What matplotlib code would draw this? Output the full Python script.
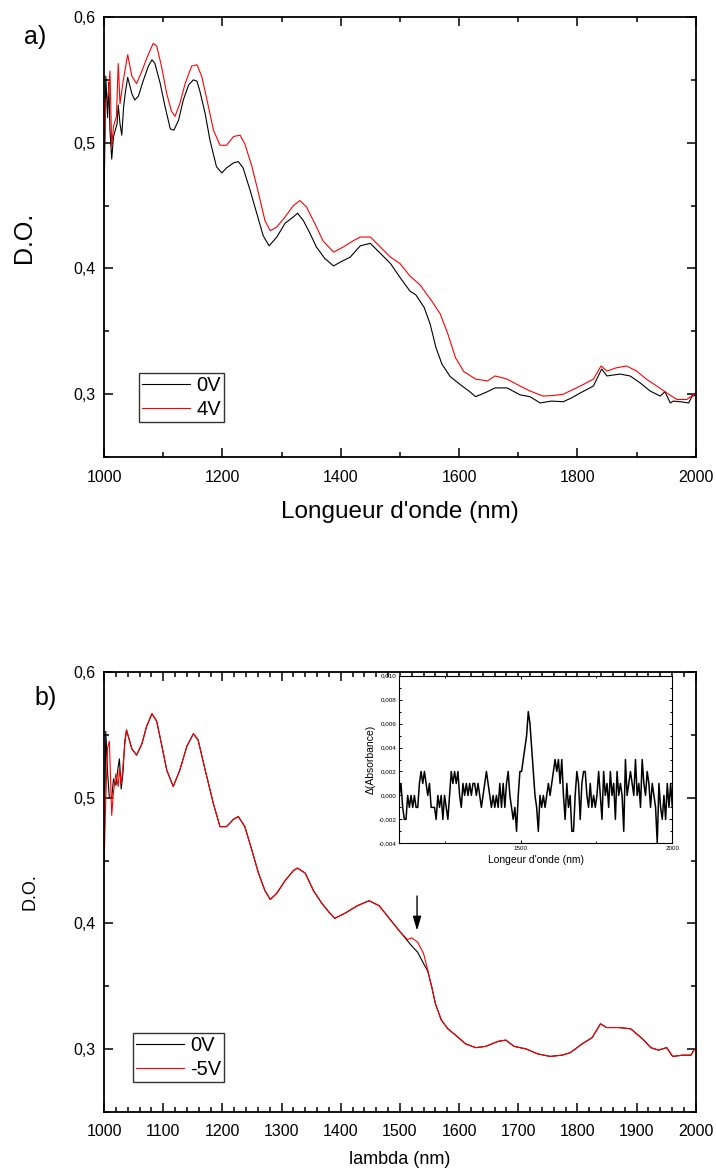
import numpy as np
import matplotlib
matplotlib.use("Agg")
import matplotlib.pyplot as plt
from matplotlib.ticker import MultipleLocator, FuncFormatter

plt.rcParams['font.family'] = ['Liberation Sans', 'DejaVu Sans']

# ---- panel a : 0V / 4V ----
wl_a0 = [1000, 1003, 1006, 1008, 1010, 1013, 1016, 1019, 1022, 1024, 1027, 1030, 1033, 1036,
         1040, 1047, 1052, 1058, 1066, 1075, 1081, 1086, 1095, 1103, 1112, 1118, 1126, 1134,
         1143, 1151, 1157, 1162, 1171, 1179, 1190, 1199, 1207, 1219, 1227, 1235, 1247, 1258,
         1269, 1279, 1292, 1306, 1320, 1327, 1337, 1348, 1359, 1373, 1388, 1399, 1416, 1433,
         1450, 1467, 1484, 1500, 1517, 1527, 1541, 1551, 1561, 1571, 1585, 1601, 1618, 1628,
         1648, 1661, 1681, 1703, 1720, 1737, 1756, 1776, 1790, 1805, 1827, 1841, 1850, 1872,
         1889, 1906, 1923, 1940, 1948, 1957, 1962, 1974, 1988, 1994, 2000]
do_a0 = [0.454, 0.553, 0.520, 0.548, 0.510, 0.487, 0.505, 0.510, 0.515, 0.530, 0.515, 0.506,
         0.528, 0.540, 0.552, 0.539, 0.534, 0.537, 0.549, 0.561, 0.566, 0.563, 0.547, 0.529,
         0.511, 0.510, 0.518, 0.534, 0.546, 0.550, 0.549, 0.541, 0.523, 0.502, 0.481, 0.476,
         0.480, 0.484, 0.485, 0.480, 0.462, 0.444, 0.426, 0.418, 0.425, 0.436, 0.441, 0.444,
         0.438, 0.428, 0.417, 0.408, 0.402, 0.405, 0.409, 0.418, 0.420, 0.412, 0.404, 0.393,
         0.382, 0.379, 0.369, 0.356, 0.337, 0.324, 0.314, 0.308, 0.302, 0.298, 0.302, 0.305,
         0.305, 0.2995, 0.298, 0.293, 0.2945, 0.294, 0.297, 0.301, 0.3065, 0.320, 0.3145,
         0.316, 0.3145, 0.309, 0.3025, 0.2985, 0.302, 0.293, 0.2945, 0.294, 0.293, 0.2985, 0.299]

wl_a4 = [1000, 1003, 1007, 1010, 1013, 1016, 1021, 1024, 1027, 1033, 1040, 1047, 1055, 1064,
         1072, 1083, 1089, 1097, 1106, 1114, 1120, 1128, 1137, 1148, 1157, 1165, 1174, 1185,
         1196, 1207, 1219, 1230, 1238, 1250, 1261, 1272, 1281, 1292, 1306, 1320, 1331, 1342,
         1356, 1370, 1388, 1404, 1421, 1433, 1450, 1467, 1484, 1500, 1517, 1534, 1554, 1568,
         1581, 1594, 1608, 1628, 1648, 1661, 1681, 1703, 1720, 1742, 1760, 1776, 1805, 1827,
         1840, 1850, 1866, 1883, 1900, 1917, 1934, 1951, 1968, 1985, 2000]
do_a4 = [0.486, 0.534, 0.537, 0.557, 0.497, 0.513, 0.521, 0.563, 0.531, 0.551, 0.570, 0.553,
         0.547, 0.557, 0.567, 0.579, 0.577, 0.561, 0.539, 0.525, 0.521, 0.531, 0.547, 0.561,
         0.562, 0.553, 0.534, 0.510, 0.498, 0.498, 0.505, 0.506, 0.499, 0.481, 0.460, 0.438,
         0.430, 0.433, 0.441, 0.450, 0.454, 0.449, 0.436, 0.422, 0.413, 0.417, 0.422, 0.425,
         0.425, 0.417, 0.409, 0.404, 0.394, 0.387, 0.374, 0.364, 0.348, 0.329, 0.318, 0.312,
         0.3105, 0.3145, 0.312, 0.3065, 0.3025, 0.2985, 0.299, 0.300, 0.3065, 0.312, 0.3224,
         0.3184, 0.321, 0.3224, 0.3184, 0.3118, 0.3065, 0.301, 0.2958, 0.2958, 0.301]

# ---- panel b : 0V / -5V ----
wl_b = [1000, 1003, 1006, 1009, 1013, 1016, 1020, 1024, 1026, 1029, 1032, 1035, 1038, 1047,
        1055, 1064, 1072, 1081, 1089, 1097, 1106, 1117, 1128, 1140, 1151, 1159, 1171, 1185,
        1196, 1207, 1219, 1227, 1238, 1250, 1261, 1272, 1281, 1292, 1306, 1320, 1327, 1340,
        1354, 1368, 1380, 1390, 1407, 1428, 1448, 1465, 1482, 1499, 1513, 1520, 1530, 1540,
        1547, 1554, 1560, 1570, 1581, 1594, 1611, 1628, 1645, 1666, 1679, 1693, 1713, 1733,
        1754, 1774, 1788, 1808, 1825, 1839, 1849, 1870, 1890, 1910, 1924, 1937, 1951, 1961,
        1978, 1992, 1998, 2000]
do_b0 = [0.450, 0.553, 0.520, 0.500, 0.500, 0.515, 0.510, 0.525, 0.531, 0.507, 0.520, 0.545,
         0.554, 0.539, 0.534, 0.543, 0.557, 0.567, 0.561, 0.543, 0.522, 0.509, 0.522, 0.541,
         0.551, 0.546, 0.522, 0.495, 0.477, 0.477, 0.483, 0.485, 0.477, 0.458, 0.440, 0.426,
         0.419, 0.424, 0.434, 0.442, 0.444, 0.440, 0.426, 0.416, 0.409, 0.404, 0.408, 0.414,
         0.418, 0.414, 0.404, 0.394, 0.386, 0.382, 0.377, 0.368, 0.362, 0.349, 0.336, 0.323,
         0.316, 0.311, 0.304, 0.301, 0.302, 0.306, 0.307, 0.302, 0.300, 0.296, 0.294, 0.295,
         0.297, 0.304, 0.309, 0.320, 0.317, 0.317, 0.316, 0.308, 0.301, 0.299, 0.301, 0.294,
         0.295, 0.295, 0.300, 0.299]
do_b5 = [0.445, 0.500, 0.540, 0.545, 0.486, 0.505, 0.519, 0.509, 0.523, 0.511, 0.525, 0.542,
         0.554, 0.539, 0.534, 0.543, 0.557, 0.567, 0.561, 0.543, 0.522, 0.509, 0.522, 0.541,
         0.551, 0.546, 0.522, 0.495, 0.477, 0.477, 0.483, 0.485, 0.477, 0.458, 0.440, 0.426,
         0.419, 0.424, 0.434, 0.442, 0.444, 0.440, 0.426, 0.416, 0.409, 0.404, 0.408, 0.414,
         0.418, 0.414, 0.404, 0.394, 0.387, 0.3885, 0.385, 0.376, 0.363, 0.349, 0.336, 0.323,
         0.316, 0.311, 0.304, 0.301, 0.302, 0.306, 0.307, 0.302, 0.300, 0.296, 0.294, 0.295,
         0.297, 0.304, 0.309, 0.320, 0.317, 0.317, 0.316, 0.308, 0.301, 0.299, 0.301, 0.294,
         0.295, 0.295, 0.300, 0.299]

# ---- inset : difference spectrum (units of 0.001) ----
delta = [0, 1, -1, -2, -2, 0, -1, 0, -1, 0, -1, -1, 1, 2, 1, 2, 1, 0, 1, -1, -1, -1, -2, 0, -1, 0, -2,
         0, -1, -2, 0, 2, 1, 2, 1, 2, 0, -1, 1, 0, 1, 0, 1, 0, 1, 1, 0, 1, 0, -1, 0, 1, 2, 1,
         0, -1, 0, -1, 0, -1, 1, -1, 1, -1, 1, 2, 0, -1, -2, -1, -3, 0, 2, 2, 3, 4, 5,
         7, 6, 4, 2, 0, -1, -3, 0, -1, 0, -1, 0, 1, 0, 1, 2, 3, 2, 3, 1, 3, 0, -2, 1, -1,
         0, -3, -3, 0, 2, 1, -2, 1, 2, 2, 0, -1, 1, -1, 0, -1, 0, 2, 0, -2, 2, 0, 1, -1, 2,
         0, 1, -2, 2, 0, 1, 0, -3, 3, 0, 1, 2, 1, 0, 3, 0, 1, -1, 3, 1, 0, 2, 1, -1, 1,
         0, -1, -4, 1, -1, -2, 0, -2, 1, -1, 1, -1]
wl_inset = np.linspace(1100, 2000, len(delta))

comma = FuncFormatter(lambda v, p: f"{v:.1f}".replace('.', ','))
comma3 = FuncFormatter(lambda v, p: f"{v:.3f}".replace('.', ','))


def style_axes(ax, xmajor, xminor):
    ax.set_xlim(1000, 2000)
    ax.set_ylim(0.25, 0.6)
    ax.xaxis.set_major_locator(MultipleLocator(xmajor))
    ax.xaxis.set_minor_locator(MultipleLocator(xminor))
    ax.yaxis.set_major_locator(MultipleLocator(0.1))
    ax.yaxis.set_minor_locator(MultipleLocator(0.05))
    ax.yaxis.set_major_formatter(comma)
    ax.tick_params(which='both', direction='in', top=True, right=True, width=1.1)
    ax.tick_params(which='major', length=6.5, labelsize=11.5)
    ax.tick_params(which='minor', length=3.6)
    ax.tick_params(axis='x', pad=9)
    ax.tick_params(axis='y', pad=6)
    for s in ax.spines.values():
        s.set_linewidth(1.3)


fig = plt.figure(figsize=(7.16, 11.74), dpi=100)

# panel a
ax_a = fig.add_axes([0.1453, 0.6107, 0.8264, 0.3748])
ax_a.plot(wl_a0, do_a0, color='black', lw=0.8, label='0V')
ax_a.plot(wl_a4, do_a4, color='red', lw=0.8, label='4V')
style_axes(ax_a, 200, 100)
ax_a.set_xlabel("Longueur d'onde (nm)", fontsize=17.5)
ax_a.xaxis.set_label_coords(0.5, -0.1)
ax_a.set_ylabel("D.O.", fontsize=18, va='center')
ax_a.yaxis.set_label_coords(-0.135, 0.5)
leg = ax_a.legend(loc='upper left', bbox_to_anchor=(0.059, 0.191), borderaxespad=0,
                  fontsize=14.5, frameon=True, fancybox=False, edgecolor='black',
                  handlelength=2.4, handletextpad=0.3, borderpad=0.15, labelspacing=0.25)
leg.get_frame().set_linewidth(1.0)

# panel b
ax_b = fig.add_axes([0.1453, 0.0531, 0.8264, 0.3743])
ax_b.plot(wl_b, do_b0, color='black', lw=0.8, label='0V')
ax_b.plot(wl_b, do_b5, color='red', lw=0.8, label='-5V')
style_axes(ax_b, 100, 20)
ax_b.set_xlabel("lambda (nm)", fontsize=13)
ax_b.xaxis.set_label_coords(0.5, -0.09)
ax_b.set_ylabel("D.O.", fontsize=13, va='center')
ax_b.yaxis.set_label_coords(-0.125, 0.5)
leg = ax_b.legend(loc='upper left', bbox_to_anchor=(0.0485, 0.18), borderaxespad=0,
                  fontsize=14.5, frameon=True, fancybox=False, edgecolor='black',
                  handlelength=2.4, handletextpad=0.3, borderpad=0.15, labelspacing=0.25)
leg.get_frame().set_linewidth(1.0)
ax_b.annotate('', xy=(1529, 0.392), xytext=(1529, 0.424),
              arrowprops=dict(arrowstyle='-|>,head_length=0.85,head_width=0.25',
                              color='black', lw=1.0))

# inset
ax_in = fig.add_axes([0.5577, 0.2817, 0.3813, 0.1427])
ax_in.plot(wl_inset, np.array(delta) / 1000.0, color='black', lw=1.1)
ax_in.set_xlim(1100, 2000)
ax_in.set_ylim(-0.004, 0.010)
ax_in.xaxis.set_major_locator(MultipleLocator(500))
ax_in.xaxis.set_minor_locator(MultipleLocator(250))
ax_in.yaxis.set_major_locator(MultipleLocator(0.002))
ax_in.yaxis.set_minor_locator(MultipleLocator(0.001))
ax_in.yaxis.set_major_formatter(comma3)
ax_in.tick_params(which='both', direction='in', top=True, right=True, width=0.7,
                  labelsize=4.5, pad=2)
ax_in.tick_params(which='major', length=2.2)
ax_in.tick_params(which='minor', length=1.4)
for s in ax_in.spines.values():
    s.set_linewidth(0.8)
ax_in.set_xlabel("Longeur d'onde (nm)", fontsize=7.5, labelpad=3)
ax_in.set_ylabel(u"\u0394(Absorbance)", fontsize=7.5, labelpad=2)

fig.text(35 / 716, 1 - 37 / 1174, "a)", fontsize=18, ha='center', va='center')
fig.text(46 / 716, 1 - 698 / 1174, "b)", fontsize=18, ha='center', va='center')

fig.savefig("out.png", dpi=100)
